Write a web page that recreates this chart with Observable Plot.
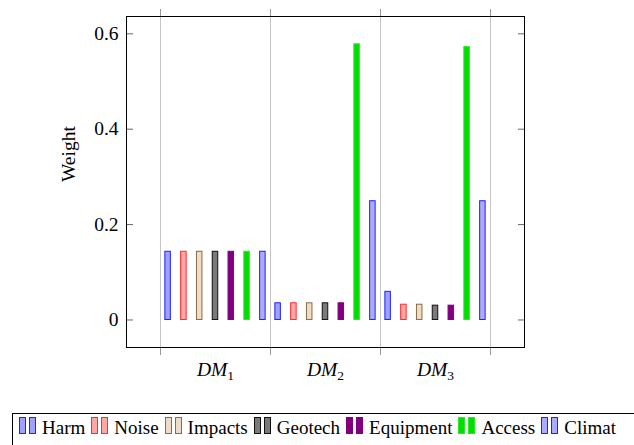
<!DOCTYPE html>
<html><head><meta charset="utf-8">
<script src="https://cdn.jsdelivr.net/npm/d3@7"></script>
<script src="https://cdn.jsdelivr.net/npm/@observablehq/plot@0.6"></script>
<style>
body{margin:0;background:#fff;font-family:"Liberation Serif","Times New Roman",Times,"DejaVu Serif",serif;overflow:hidden;width:634px;height:445px;position:relative}
#chart svg{display:block}
#legend{position:absolute;left:12px;top:413px;width:650px;height:40px;border:1px solid #000;box-sizing:border-box;padding:1px 0 0 5px;font-size:19px;line-height:26px;white-space:nowrap;color:#000}
.item{display:inline-block;margin-right:5px}
.item svg{vertical-align:baseline;margin-right:6px}
</style></head><body>
<div id="chart"></div><div id="legend"></div>
<script>
const groups = [1, 2, 3];
const groupLabels = ["DM1", "DM2", "DM3"];
const series = ["Harm", "Noise", "Impacts", "Geotech", "Equipment", "Access", "Climat"];
const dm1 = [0.143, 0.143, 0.143, 0.143, 0.143, 0.143, 0.143];
const dm2 = [0.035, 0.035, 0.035, 0.035, 0.035, 0.578, 0.249];
const dm3 = [0.059, 0.032, 0.032, 0.030, 0.030, 0.572, 0.249];
const fills = ["#a0a0ff", "#ffa6a6", "#efdcc8", "#7a7a7a", "#800080", "#00dd00", "#ababff"];
const strokes = ["#2020ff", "#ff2a2a", "#8b6a45", "#111111", "#800080", "#22ee22", "#2020ff"];
const yTicks = [0, 0.2, 0.4, 0.6];
const sepTicks = [0.5, 1.5, 2.5, 3.5];

const values = [dm1, dm2, dm3];
const barStep = 0.1436, barWidth = 0.05;
const data = [];
groups.forEach((g, gi) => series.forEach((s, si) => {
  const c = g + (si - 3) * barStep;
  data.push({x1: c - barWidth / 2, x2: c + barWidth / 2, v: values[gi][si], fill: fills[si], stroke: strokes[si]});
}));

const font = '"Liberation Serif", "Times New Roman", Times, "DejaVu Serif", serif';
const plot = Plot.plot({
  width: 634, height: 400,
  marginLeft: 126, marginRight: 110, marginTop: 16, marginBottom: 53,
  style: {fontFamily: font, fontSize: "19.5px", color: "#000", background: "#fff"},
  x: {domain: [0.191, 3.809]},
  y: {domain: [-0.0577, 0.6363]},
  marks: [
    Plot.gridX(sepTicks, {stroke: "#c4c4c4", strokeOpacity: 1}),
    Plot.axisX(sepTicks, {anchor: "top", tickSize: 8, stroke: "#999", tickFormat: () => "", label: null}),
    Plot.axisX(sepTicks, {anchor: "bottom", tickSize: 8, stroke: "#999", tickFormat: () => "", label: null}),
    Plot.axisX(groups, {anchor: "bottom", tickSize: 0, tickPadding: 15, tickFormat: (d) => groupLabels[d - 1], label: null, fontSize: 19.5}),
    Plot.axisY(yTicks, {anchor: "left", tickSize: 0, tickPadding: 8, tickFormat: (d) => d === 0 ? "0" : d3.format(".1f")(d), label: null, fontSize: 19.5}),
    Plot.axisY(yTicks, {anchor: "left", tickSize: -7, stroke: "#666", tickFormat: () => "", label: null}),
    Plot.axisY(yTicks, {anchor: "right", tickSize: -7, stroke: "#666", tickFormat: () => "", label: null}),
    Plot.rectY(data, {x1: "x1", x2: "x2", y1: 0, y2: "v", fill: "fill", stroke: "stroke", strokeWidth: 1}),
    Plot.frame({stroke: "#000", strokeWidth: 1}),
    Plot.text(["Weight"], {frameAnchor: "left", dx: -58, rotate: -90, fontSize: 19.5, fill: "#000"})
  ]
});
document.getElementById("chart").appendChild(plot);
d3.select(plot).style("font-family", font);
d3.select(plot).selectAll("text, g").attr("font-family", font);

// italic DM with subscript index
d3.select(plot).selectAll("text").each(function() {
  const t = this.textContent;
  const m = /^DM(\d)$/.exec(t);
  if (m) {
    const sel = d3.select(this);
    sel.text(null);
    sel.append("tspan").attr("font-style", "italic").text("DM");
    sel.append("tspan").attr("font-size", "13.5").attr("dy", "4").text(m[1]);
  }
});

// legend
const legend = d3.select("#legend");
series.forEach((s, i) => {
  const it = legend.append("span").attr("class", "item");
  const svg = it.append("svg").attr("width", 18).attr("height", 17);
  [1, 11].forEach(x => svg.append("rect").attr("x", x + 0.5).attr("y", 0.5).attr("width", 6).attr("height", 16)
    .attr("fill", fills[i]).attr("stroke", strokes[i]));
  it.append("span").text(s);
});
</script>
</body></html>
